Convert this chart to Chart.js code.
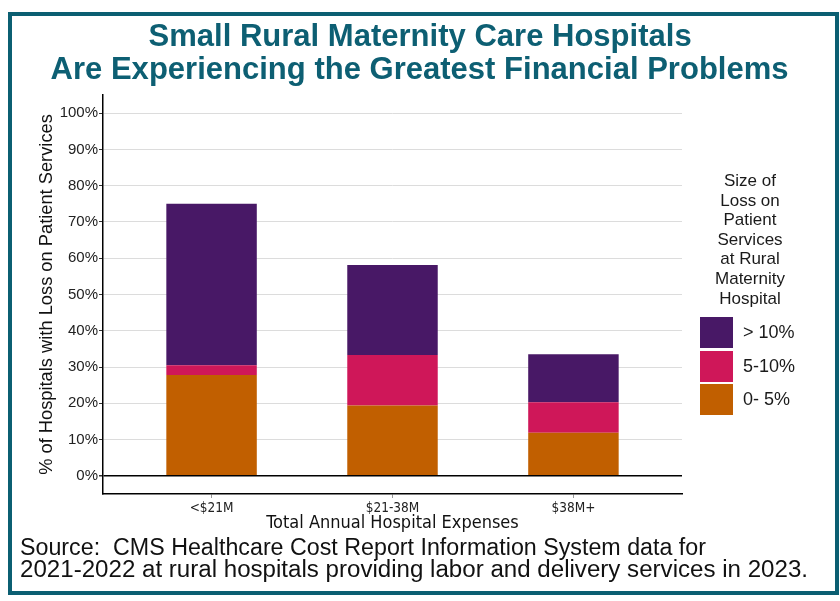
<!DOCTYPE html>
<html>
<head>
<meta charset="utf-8">
<script src="https://cdn.jsdelivr.net/npm/chart.js@4/dist/chart.umd.min.js"></script>
<style>
  html, body { margin: 0; padding: 0; background: #fff; }
  body { width: 840px; height: 601px; position: relative; overflow: hidden; font-family: "Liberation Sans", Arial, sans-serif; }
  #frame { position: absolute; left: 8px; top: 12px; width: 823px; height: 575px; border: 4px solid #0b5f72; }
  #wrap { position: absolute; left: 0; top: 0; width: 840px; height: 601px; }
  #title { position: absolute; left: 0; top: 19px; width: 840px; text-align: center; color: #0d5f73;
    font-family: "Liberation Sans", Arial, sans-serif; font-weight: bold; font-size: 32px; line-height: 33px; }
  #title div { display: inline-block; white-space: nowrap; transform-origin: center; }
  #legend { position: absolute; left: 690px; top: 171px; width: 120px; color: #1a1a1a; font-size: 17px; }
  #legend .ttl { text-align: center; line-height: 19.6px; }
  #legend .item { position: absolute; left: 10px; height: 32px; width: 120px; }
  #legend .box { position: absolute; left: 0; top: 0; width: 33px; height: 31px; }
  #legend .lbl { position: absolute; left: 43px; top: 5px; font-size: 18px; }
  #source { position: absolute; left: 20px; top: 536px; font-family: "Liberation Sans", Arial, sans-serif;
    font-size: 23px; line-height: 22px; color: #111; }
  #source div { white-space: pre; transform-origin: left center; display: inline-block; }
</style>
</head>
<body>
<div id="frame"></div>
<div id="wrap"><canvas id="chart" width="840" height="601"></canvas></div>
<div id="title"><div>Small Rural Maternity Care Hospitals</div><br><div>Are Experiencing the Greatest Financial Problems</div></div>
<div id="legend"></div>
<div id="source"><div>Source:  CMS Healthcare Cost Report Information System data for</div><br><div>2021-2022 at rural hospitals providing labor and delivery services in 2023.</div></div>
<script>
// data (percent of hospitals)
const categories = ["<$21M", "$21-38M", "$38M+"];
const loss0to5 = [27.8, 19.4, 11.9];
const loss5to10 = [2.7, 13.9, 8.4];
const lossOver10 = [44.5, 24.8, 13.2];
const yTicks = [0, 10, 20, 30, 40, 50, 60, 70, 80, 90, 100];

const seriesNames = ["0- 5%", "5-10%", "> 10%"];
const seriesColors = ["#c15f00", "#cf1759", "#481866"];
const seriesValues = [loss0to5, loss5to10, lossOver10];

const legendTitle = ["Size of", "Loss on", "Patient", "Services", "at Rural", "Maternity", "Hospital"];

// narrow look: squeeze the html text lines horizontally
function squeeze(el, target) {
  const w = el.getBoundingClientRect().width;
  el.style.transform = "scaleX(" + target / w + ")";
}
const titleLines = document.querySelectorAll("#title div");
const titleRatio = 738 / titleLines[1].getBoundingClientRect().width;
titleLines.forEach((d) => { d.style.transform = "scaleX(" + titleRatio + ")"; });
const srcLines = document.querySelectorAll("#source div");
squeeze(srcLines[0], 686);
squeeze(srcLines[1], 788);

// legend, top to bottom is reverse of the stack
const legendEl = document.getElementById("legend");
legendEl.innerHTML = '<div class="ttl">' + legendTitle.join("<br>") + "</div>";
const legendTops = [146, 180, 213];
seriesNames.slice().reverse().forEach((name, i) => {
  const color = seriesColors[seriesNames.length - 1 - i];
  const item = document.createElement("div");
  item.className = "item";
  item.style.top = legendTops[i] + "px";
  item.innerHTML = '<div class="box" style="background:' + color + '"></div><div class="lbl">' + name + "</div>";
  legendEl.appendChild(item);
});

const narrow = '"DejaVu Sans Condensed", "Liberation Sans", sans-serif';
const regular = '"Liberation Sans", Arial, sans-serif';

new Chart(document.getElementById("chart"), {
  type: "bar",
  data: {
    datasets: seriesNames.map((name, i) => ({
      label: name,
      data: seriesValues[i].map((v, j) => ({ x: j + 1, y: v })),
      backgroundColor: seriesColors[i],
      borderWidth: 0,
      categoryPercentage: 1,
      barPercentage: 0.5,
    })),
  },
  options: {
    responsive: false,
    animation: false,
    layout: { padding: { left: 30, right: 158, top: 95, bottom: 65 } },
    plugins: {
      legend: { display: false },
      tooltip: { enabled: false },
      title: { display: false },
    },
    scales: {
      x: {
        type: "linear",
        stacked: true,
        offset: false,
        min: 0.4,
        max: 3.6,
        afterBuildTicks: (scale) => {
          scale.ticks = categories.map((c, i) => ({ value: i + 1 }));
        },
        afterFit: (scale) => { scale.height = 42; },
        grid: { offset: false, drawOnChartArea: false, drawTicks: true, tickLength: 4, tickColor: "#999" },
        border: { display: true, color: "#000", width: 1.5 },
        ticks: {
          autoSkip: false,
          maxRotation: 0,
          padding: 2,
          color: "#222",
          font: { family: narrow, size: 13.5 },
          callback: (v) => categories[v - 1],
        },
        title: {
          display: true,
          text: "Total Annual Hospital Expenses",
          color: "#111",
          font: { family: narrow, size: 18 },
          padding: { top: 0, bottom: 2 },
        },
      },
      y: {
        stacked: true,
        min: -5,
        max: 105,
        afterBuildTicks: (scale) => {
          scale.ticks = yTicks.map((v) => ({ value: v }));
        },
        afterFit: (scale) => { scale.width = 73; },
        grid: {
          color: (ctx) => (ctx.tick && ctx.tick.value === 0 ? "#000" : "#dcdcdc"),
          lineWidth: (ctx) => (ctx.tick && ctx.tick.value === 0 ? 1.5 : 1),
          tickColor: "#333",
          tickLength: 4,
        },
        border: { display: true, color: "#000", width: 1.5 },
        ticks: {
          padding: 1,
          color: "#222",
          font: { family: regular, size: 15 },
          callback: (v) => v + "%",
        },
        title: {
          display: true,
          text: "% of Hospitals with Loss on Patient Services",
          color: "#111",
          font: { family: regular, size: 18.3 },
          padding: { top: 6, bottom: 0 },
        },
      },
    },
  },
});
</script>
</body>
</html>
